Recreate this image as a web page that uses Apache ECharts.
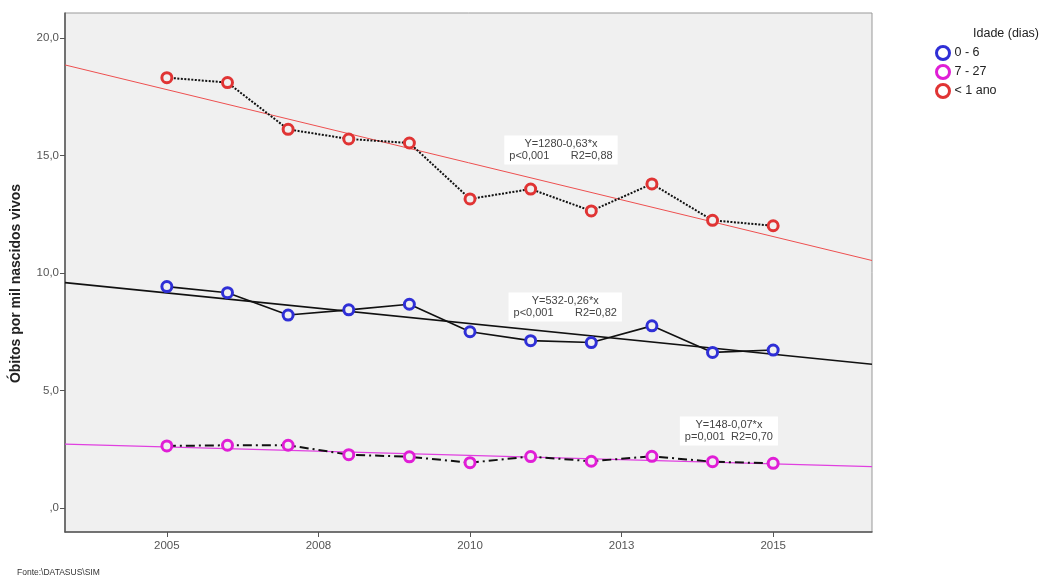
<!DOCTYPE html>
<html><head><meta charset="utf-8">
<script src="https://cdn.jsdelivr.net/npm/echarts@6/dist/echarts.min.js"></script>
<style>html,body{margin:0;padding:0;background:#fff}#c{width:1054px;height:577px}</style>
</head><body><div id="c"></div>
<script>
const years = [2005, 2006, 2007, 2008, 2009, 2010, 2011, 2012, 2013, 2014, 2015];
const val06 = [9.42, 9.16, 8.21, 8.43, 8.67, 7.50, 7.12, 7.04, 7.75, 6.62, 6.72];
const val727 = [2.64, 2.67, 2.67, 2.27, 2.18, 1.93, 2.19, 1.99, 2.20, 1.97, 1.90];
const valAno = [18.31, 18.10, 16.11, 15.70, 15.53, 13.15, 13.57, 12.64, 13.79, 12.24, 12.01];
const fitX = [2003.32, 2016.63];
const fit06 = [9.59, 6.12];
const fit727 = [2.72, 1.76];
const fitAno = [18.85, 10.53];
const xTicks = [2005, 2007.5, 2010, 2012.5, 2015];
const yTicks = [0, 5, 10, 15, 20];
const seriesNames = ['0 - 6', '7 - 27', '< 1 ano'];
const eqTexts = ['Y=532-0,26*x\np<0,001       R2=0,82', 'Y=148-0,07*x\np=0,001  R2=0,70', 'Y=1280-0,63*x\np<0,001       R2=0,88'];
const eqPos = [[2011.57, 8.55], [2014.27, 3.28], [2011.5, 15.23]];

const colBlue = '#2f2fd6', colMag = '#e01ed6', colRed = '#e03434';
const BG = '#f0f0f0';
const font = 'Liberation Sans, Arial, sans-serif';
const pair = (xs, ys) => xs.map((x, i) => [x, ys[i]]);

function mp(i) {
  return {
    silent: true,
    symbol: 'circle', symbolSize: 1,
    itemStyle: {color: 'rgba(0,0,0,0)'},
    label: {show: true, position: 'inside', formatter: eqTexts[i], backgroundColor: '#fff',
      padding: [3, 5, 2, 5], color: '#444', fontSize: 11, lineHeight: 12, fontFamily: font, align: 'center'},
    data: [{coord: eqPos[i]}]
  };
}
function mainSeries(name, vals, color, lineType, lineWidth, i) {
  return {
    name: name, type: 'line', data: pair(years, vals), z: 5,
    symbol: 'circle', symbolSize: 10,
    itemStyle: {color: BG, borderColor: color, borderWidth: 3},
    lineStyle: {color: '#111', width: lineWidth, type: lineType},
    emphasis: {disabled: true}, silent: true,
    markPoint: mp(i)
  };
}
function fitSeries(vals, color, width) {
  return {
    name: 'fit', type: 'line', data: pair(fitX, vals), z: 3, symbol: 'none',
    lineStyle: {color: color, width: width}, silent: true, emphasis: {disabled: true}
  };
}

const chart = echarts.init(document.getElementById('c'));
chart.setOption({
  animation: false,
  backgroundColor: '#fff',
  textStyle: {fontFamily: font},
  grid: {left: 65, right: 182, top: 13, bottom: 45, show: true, backgroundColor: BG, borderColor: '#999', borderWidth: 1},
  xAxis: {
    type: 'value', min: fitX[0], max: fitX[1],
    splitLine: {show: false},
    axisLine: {show: true, onZero: false, lineStyle: {color: '#555', width: 1.5}},
    axisTick: {show: true, customValues: xTicks, length: 5, lineStyle: {color: '#555'}},
    axisLabel: {customValues: xTicks, formatter: v => String(Math.round(v)), color: '#555', fontSize: 11.5, margin: 8, fontFamily: font}
  },
  yAxis: {
    type: 'value', min: -1.02, max: 21.06,
    name: 'Óbitos por mil nascidos vivos', nameLocation: 'middle', nameGap: 42,
    nameTextStyle: {fontWeight: 'bold', fontSize: 14, color: '#222', fontFamily: font, padding: [0, 22, 0, 0]},
    splitLine: {show: false},
    axisLine: {show: true, onZero: false, lineStyle: {color: '#555', width: 1.5}},
    axisTick: {show: true, customValues: yTicks, length: 5, lineStyle: {color: '#555'}},
    axisLabel: {customValues: yTicks, formatter: v => (v === 0 ? ',0' : v.toFixed(1).replace('.', ',')), color: '#555', fontSize: 11.5, margin: 6, fontFamily: font}
  },
  title: [
    {text: 'Idade (dias)', left: 968, top: 22, textStyle: {fontSize: 12.5, fontWeight: 'normal', color: '#222', fontFamily: font}},
    {text: 'Fonte:\\DATASUS\\SIM', left: 17, top: 568, padding: 0, textStyle: {fontSize: 8.5, fontWeight: 'normal', color: '#333', fontFamily: font}}
  ],
  legend: {
    orient: 'vertical', left: 930, top: 40, itemGap: 3, itemWidth: 13, itemHeight: 13,
    textStyle: {fontSize: 12.5, color: '#222', fontFamily: font}, selectedMode: false,
    data: [
      {name: seriesNames[0], icon: 'circle', itemStyle: {color: '#fff', borderColor: colBlue, borderWidth: 3}},
      {name: seriesNames[1], icon: 'circle', itemStyle: {color: '#fff', borderColor: colMag, borderWidth: 3}},
      {name: seriesNames[2], icon: 'circle', itemStyle: {color: '#fff', borderColor: colRed, borderWidth: 3}}
    ]
  },
  series: [
    fitSeries(fitAno, '#ee5050', 1),
    fitSeries(fit06, '#111', 1.6),
    fitSeries(fit727, '#e040e0', 1.2),
    mainSeries(seriesNames[0], val06, colBlue, 'solid', 1.6, 0),
    mainSeries(seriesNames[1], val727, colMag, [9, 4, 2, 4], 2, 1),
    mainSeries(seriesNames[2], valAno, colRed, [2, 1.5], 2, 2)
  ]
});
</script></body></html>
